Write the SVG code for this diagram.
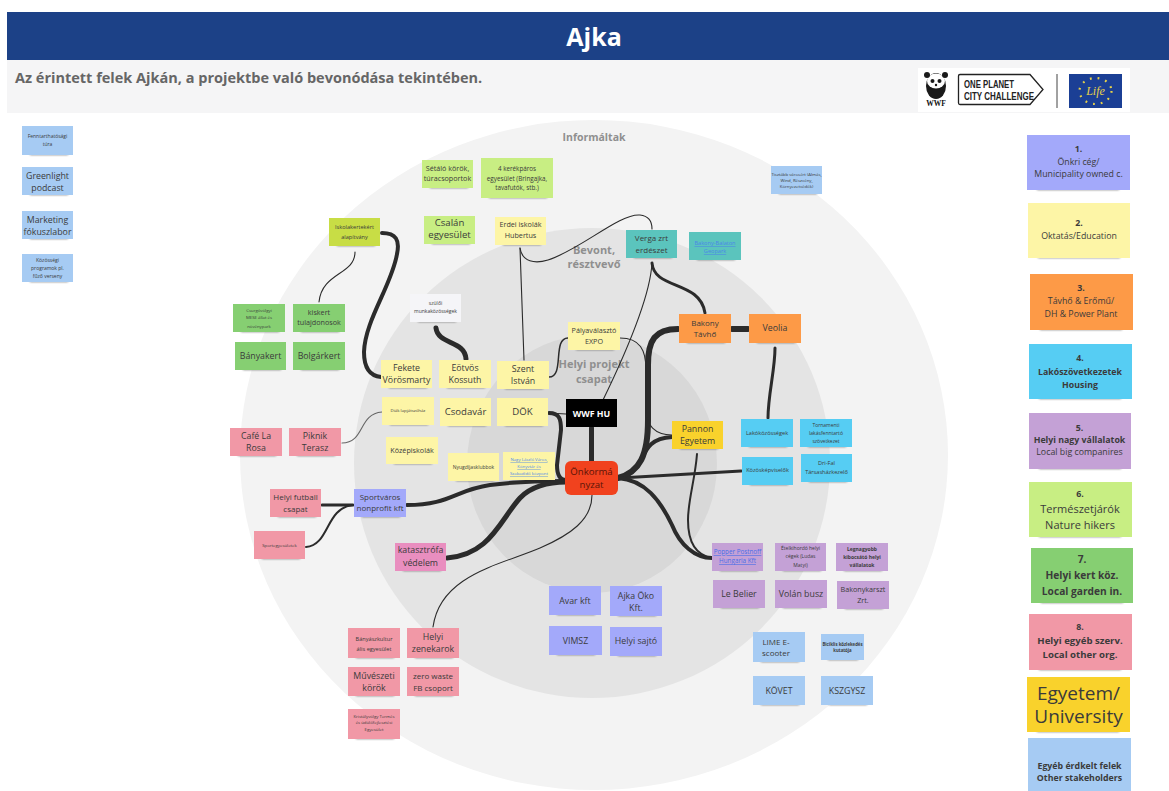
<svg xmlns="http://www.w3.org/2000/svg" width="1169" height="791" viewBox="0 0 1169 791">
<style>
text{font-family:"Open Sans","Noto Sans","Liberation Sans",sans-serif;text-anchor:middle;fill:#3b3b3b}
.sh{fill:#222;opacity:.55;filter:url(#blur)}
.peri{fill:#a3a9fa}.yel{fill:#fdf5a6}.ora{fill:#fd9a47}.cy{fill:#56cdf3}.pur{fill:#c4a1d6}.lime{fill:#c8ee83}.grn{fill:#86cf72}.pnk{fill:#f198a6}.uni{fill:#f9d22c}.blu{fill:#a6cbf3}.teal{fill:#5bc4bd}.olive{fill:#c8dd45}.wht{fill:#f5f5f8}.mag{fill:#e98ebf}.blk{fill:#000}
.s4{font-size:4.3px}.s5{font-size:5px}.s55{font-size:5.6px}.s6{font-size:6.3px}.s7{font-size:7.2px}.s8{font-size:8px}.s85{font-size:8.8px}.s95{font-size:9.6px}.s10{font-size:10.2px}.s11{font-size:11px}
.b{font-weight:700}
.lnk{fill:#4a86e8;text-decoration:underline}
.ring{font-weight:700;fill:#8f8f8f}
.c{fill:none;stroke:#2b2b2b;stroke-linecap:round}
.w1{stroke-width:1.1}.w2{stroke-width:2}.w3{stroke-width:3}.w4{stroke-width:4}.w5{stroke-width:5}.w6{stroke-width:6}
</style>
<defs><filter id="blur" x="-20%" y="-100%" width="140%" height="300%"><feGaussianBlur stdDeviation="1.2"/></filter></defs>
<rect width="1169" height="791" fill="#fff"/>
<rect x="7" y="60" width="1162" height="53" fill="#f5f5f6"/>
<rect x="7" y="12" width="1162" height="48" fill="#1c4187"/>
<text x="594" y="46" font-size="25" font-weight="700" style="fill:#fff">Ajka</text>
<text x="15" y="83" font-size="14.5" font-weight="700" style="text-anchor:start;fill:#666">Az érintett felek Ajkán, a projektbe való bevonódása tekintében.</text>
<g id="logos">
<rect x="918" y="68" width="212" height="44" fill="#fff"/>
<ellipse cx="936" cy="86" rx="10" ry="13" fill="#1a1a1a"/>
<ellipse cx="936" cy="81" rx="9" ry="7.5" fill="#fff"/>
<circle cx="927" cy="75" r="3" fill="#1a1a1a"/><circle cx="945" cy="75" r="3" fill="#1a1a1a"/>
<circle cx="932.5" cy="81" r="2" fill="#1a1a1a"/><circle cx="939.5" cy="81" r="2" fill="#1a1a1a"/>
<circle cx="936" cy="85" r="1.2" fill="#1a1a1a"/>
<text x="936" y="106" font-size="7.5" font-weight="700" style="font-family:'Liberation Serif',serif;fill:#111">WWF</text>
<path d="M960,74.500 H1030 L1043,89.500 L1030,104.500 H960 Q958.500,104.500 958.500,103 V76 Q958.500,74.500 960,74.500 Z" fill="#fff" stroke="#222" stroke-width="1.300"/>
<text x="964" y="88" font-size="11" font-weight="700" textLength="50" lengthAdjust="spacingAndGlyphs" style="font-family:'Liberation Sans',sans-serif;text-anchor:start;fill:#222">ONE PLANET</text>
<text x="964" y="100" font-size="11" font-weight="700" textLength="70" lengthAdjust="spacingAndGlyphs" style="font-family:'Liberation Sans',sans-serif;text-anchor:start;fill:#222">CITY CHALLENGE</text>
<line x1="1057" y1="74" x2="1057" y2="108" stroke="#444" stroke-width="1"/>
<rect x="1069" y="74" width="53" height="34" fill="#1b3f95"/>
<ellipse cx="1095.500" cy="91" rx="16" ry="13" fill="none" stroke="#e8d24a" stroke-width="2.200" stroke-dasharray="1.800 6"/>
<text x="1095.500" y="95" font-size="12" font-style="italic" style="font-family:'Liberation Serif',serif;fill:#e8d24a">Life</text>
</g>
<g id="rings">
<ellipse cx="594" cy="455" rx="354" ry="335" fill="#f3f3f3"/>
<ellipse cx="592" cy="463" rx="238" ry="235" fill="#e4e4e4"/>
<ellipse cx="592" cy="464" rx="125" ry="129" fill="#d8d8d8"/>
<text class="ring" x="594" y="141" font-size="10.500">Informáltak</text>
<text class="ring" x="594" y="254" font-size="11">Bevont,</text>
<text class="ring" x="594" y="268" font-size="11">résztvevő</text>
<text class="ring" x="594" y="368" font-size="11">Helyi projekt</text>
<text class="ring" x="594" y="383" font-size="11">csapat</text>
</g>
<g id="connectors">
<path class="c w4" d="M382,233 C396,233 400,240 397,254 C392,285 365,320 364,352 C364,368 370,376 381,377"/>
<path class="c w1" d="M355,252 C355,275 322,272 319,302"/>
<path class="c w5" d="M436,328 C438,345 465,340 466,359"/>
<path class="c w1" d="M520,248 L524,360"/>
<path class="c w1" d="M520,248 C522,262 535,264 548,260 C580,250 620,213 640,215 C650,216 652,222 652,229"/>
<path class="c w3" d="M652,263 C654,290 700,280 705,313"/>
<path class="c w1" d="M652,263 C650,300 620,365 603,400"/>
<path class="c w6" d="M732,329 H748"/>
<path class="c w6" d="M678,329 C655,329 648,340 648,365 L648,420 C648,455 640,472 618,478"/>
<path class="c w1" d="M620,338 C640,338 646,350 646,370 L646,410 C646,425 655,435 672,435"/>
<path class="c w4" d="M672,437 C650,438 646,450 640,462 C634,472 628,476 618,478"/>
<path class="c w3" d="M775,348 C775,370 768,395 768,418"/>
<path class="c w3" d="M620,478 L741,471"/>
<path class="c w4" d="M618,478 C645,480 660,500 672,525 C680,545 695,558 712,558"/>
<path class="c w2" d="M697,454 C695,480 688,500 688,520 C688,540 695,555 712,558"/>
<path class="c w5" d="M591.500,428 V461"/>
<path class="c w4" d="M549,413 C560,413 561,420 561,430 L557,465 C557,475 560,480 566,480"/>
<path class="c w1" d="M549,413 L566,414"/>
<path class="c w4" d="M407,505 C450,505 455,490 490,485 C520,481 545,481 566,481"/>
<path class="c w5" d="M447,558 C490,555 500,520 520,498 C530,487 548,482 566,482"/>
<path class="c w3" d="M322,505 H353"/>
<path class="c w2" d="M306,547 C330,545 325,508 353,505"/>
<path class="c w1" style="stroke:#666" d="M342,443 C365,443 358,414 382,412"/>
<path class="c w2" style="stroke-width:1.500" d="M549,377 C565,377 552,338 568,338"/>
<path class="c w1" d="M592,495 C592,520 570,535 540,548 C500,565 440,575 433,627"/>
</g>
<g id="n1"><rect class="sh" x="30" y="152" width="38" height="3"/><rect class="blu" x="22" y="126" width="51" height="29"/><text class="s5" x="47.500" y="138">Fenntarthatósági</text><text class="s5" x="47.500" y="146">túra</text></g>
<g id="n2"><rect class="sh" x="30" y="192" width="38" height="3"/><rect class="blu" x="22" y="167" width="51" height="28"/><text class="s85" x="47.500" y="179">Greenlight</text><text class="s85" x="47.500" y="191">podcast</text></g>
<g id="n3"><rect class="sh" x="30" y="236" width="38" height="3"/><rect class="blu" x="22" y="211" width="51" height="28"/><text class="s85" x="47.500" y="223">Marketing</text><text class="s85" x="47.500" y="235">fókuszlabor</text></g>
<g id="n4"><rect class="sh" x="30" y="279" width="38" height="3"/><rect class="blu" x="22" y="254" width="51" height="28"/><text class="s5" x="47.500" y="262">Közösségi</text><text class="s5" x="47.500" y="270">programok pl.</text><text class="s5" x="47.500" y="278">fűző verseny</text></g>
<g id="n5"><rect class="sh" x="430" y="185" width="38" height="3"/><rect class="lime" x="422" y="160" width="51" height="28"/><text class="s7" x="447.500" y="171">Sétáló körök,</text><text class="s7" x="447.500" y="181">túracsoportok</text></g>
<g id="n6"><rect class="sh" x="489" y="195" width="58" height="3"/><rect class="lime" x="481" y="158" width="72" height="40"/><text class="s6" x="517" y="171">4 kerékpáros</text><text class="s6" x="517" y="181">egyesület (Bringajka,</text><text class="s6" x="517" y="190">tavafutók, stb.)</text></g>
<g id="n7"><rect class="sh" x="432" y="241" width="38" height="3"/><rect class="lime" x="424" y="216" width="51" height="28"/><text class="s95" x="449.500" y="226">Csalán</text><text class="s95" x="449.500" y="238">egyesület</text></g>
<g id="n8"><rect class="sh" x="503" y="242" width="38" height="3"/><rect class="yel" x="495" y="217" width="51" height="28"/><text class="s7" x="520.500" y="227">Erdei iskolák</text><text class="s7" x="520.500" y="238">Hubertus</text></g>
<g id="n9"><rect class="sh" x="634" y="255" width="38" height="3"/><rect class="teal" x="626" y="230" width="51" height="28"/><text class="s8" x="651.500" y="241">Verga zrt</text><text class="s8" x="651.500" y="253">erdészet</text></g>
<g id="n10"><rect class="sh" x="697" y="257" width="38" height="3"/><rect class="teal" x="689" y="232" width="52" height="28"/><text class="s55 lnk" style="fill:#4a86e8" x="715" y="245">Bakony-Balaton</text><text class="s55 lnk" style="fill:#4a86e8" x="715" y="253">Geopark</text></g>
<g id="n11"><rect class="sh" x="779" y="191" width="38" height="3"/><rect class="blu" x="771" y="166" width="51" height="28"/><text class="s4" x="796.500" y="176">Tisztább városért (Almás,</text><text class="s4" x="796.500" y="182">Wind, Részvény,</text><text class="s4" x="796.500" y="188">Környezetvédők)</text></g>
<g id="n12"><rect class="sh" x="337" y="243" width="38" height="3"/><rect class="olive" x="329" y="218" width="51" height="28"/><text class="s55" x="354.500" y="229">Iskolakertekért</text><text class="s55" x="354.500" y="239">alapítvány</text></g>
<g id="n13"><rect class="sh" x="418" y="319" width="38" height="3"/><rect class="wht" x="410" y="294" width="51" height="28"/><text class="s5" x="435.500" y="305">szülői</text><text class="s5" x="435.500" y="313">munkaközösségek</text></g>
<g id="n14"><rect class="sh" x="576" y="347" width="38" height="3"/><rect class="yel" x="568" y="322" width="52" height="28"/><text class="s7" x="594" y="333">Pályaválasztó</text><text class="s7" x="594" y="344">EXPO</text></g>
<g id="n15"><rect class="sh" x="687" y="340" width="38" height="3"/><rect class="ora" x="679" y="314" width="52" height="29"/><text class="s8" x="705" y="326">Bakony</text><text class="s8" x="705" y="337">Távhő</text></g>
<g id="n16"><rect class="sh" x="757" y="340" width="38" height="3"/><rect class="ora" x="749" y="314" width="52" height="29"/><text class="s85" x="775" y="331">Veolia</text></g>
<g id="n17"><rect class="sh" x="389" y="385" width="38" height="3"/><rect class="yel" x="381" y="360" width="51" height="28"/><text class="s85" x="406.500" y="371">Fekete</text><text class="s85" x="406.500" y="383">Vörösmarty</text></g>
<g id="n18"><rect class="sh" x="447" y="385" width="38" height="3"/><rect class="yel" x="439" y="360" width="52" height="28"/><text class="s85" x="465" y="371">Eötvös</text><text class="s85" x="465" y="383">Kossuth</text></g>
<g id="n19"><rect class="sh" x="505" y="386" width="38" height="3"/><rect class="yel" x="497" y="361" width="52" height="28"/><text class="s85" x="523" y="372">Szent</text><text class="s85" x="523" y="384">István</text></g>
<g id="n20"><rect class="sh" x="390" y="422" width="38" height="3"/><rect class="yel" x="382" y="397" width="52" height="28"/><text class="s4" x="408" y="412">Diák lapjátszóház</text></g>
<g id="n21"><rect class="sh" x="448" y="423" width="38" height="3"/><rect class="yel" x="440" y="398" width="51" height="28"/><text class="s95" x="465.500" y="415">Csodavár</text></g>
<g id="n22"><rect class="sh" x="505" y="423" width="38" height="3"/><rect class="yel" x="497" y="398" width="51" height="28"/><text class="s95" x="522.500" y="415">DÖK</text></g>
<g id="n23"><rect class="sh" x="394" y="461" width="38" height="3"/><rect class="yel" x="386" y="437" width="52" height="27"/><text class="s7" x="412" y="453">Középiskolák</text></g>
<g id="n24"><rect class="sh" x="456" y="478" width="38" height="3"/><rect class="yel" x="448" y="453" width="51" height="28"/><text class="s5" x="473.500" y="469">Nyugdíjasklubbok</text></g>
<g id="n25"><rect class="sh" x="511" y="477" width="38" height="3"/><rect class="yel" x="503" y="452" width="52" height="28"/><text class="s4 lnk" style="fill:#4a86e8" x="529" y="461">Nagy László Város,</text><text class="s4 lnk" style="fill:#4a86e8" x="529" y="468">Könyvtár és</text><text class="s4 lnk" style="fill:#4a86e8" x="529" y="475">Szabadidő központ</text></g>
<g id="n26"><rect class="blk" x="566" y="399" width="51" height="28"/><text class="s85 b" style="fill:#fff" x="591.500" y="417">WWF HU</text></g>
<g id="n27"><rect x="565" y="461" width="53" height="34" rx="6" fill="#f1421e"/><text class="s95" style="fill:#5a1408" x="591.500" y="475">Önkormá</text><text class="s95" style="fill:#5a1408" x="591.500" y="488">nyzat</text></g>
<g id="n28"><rect class="sh" x="680" y="446" width="38" height="3"/><rect class="uni" x="672" y="421" width="51" height="28"/><text class="s85" x="697.500" y="432">Pannon</text><text class="s85" x="697.500" y="444">Egyetem</text></g>
<g id="n29"><rect class="sh" x="749" y="444" width="38" height="3"/><rect class="cy" x="741" y="419" width="52" height="28"/><text class="s55" x="767" y="435">Lakóközösségek</text></g>
<g id="n30"><rect class="sh" x="808" y="444" width="38" height="3"/><rect class="cy" x="800" y="419" width="52" height="28"/><text class="s5" x="826" y="427">Tornamenti</text><text class="s5" x="826" y="434.500">lakásfenntartó</text><text class="s5" x="826" y="443">szövetkezet</text></g>
<g id="n31"><rect class="sh" x="750" y="482" width="38" height="3"/><rect class="cy" x="742" y="457" width="51" height="28"/><text class="s55" x="767.500" y="472">Közösképviselők</text></g>
<g id="n32"><rect class="sh" x="809" y="479" width="38" height="3"/><rect class="cy" x="801" y="454" width="51" height="28"/><text class="s55" x="826.500" y="465">Dri-Fal</text><text class="s55" x="826.500" y="474">Társasházkezelő</text></g>
<g id="n33"><rect class="sh" x="720" y="568" width="38" height="3"/><rect class="pur" x="712" y="543" width="51" height="28"/><text class="s6 lnk" style="fill:#4a6ee8" x="737.500" y="554">Popper Postnoff</text><text class="s6 lnk" style="fill:#4a6ee8" x="737.500" y="563">Hungaria Kft</text></g>
<g id="n34"><rect class="sh" x="783" y="568" width="38" height="3"/><rect class="pur" x="775" y="543" width="51" height="28"/><text class="s5" x="800.500" y="550">Ételkihordó helyi</text><text class="s5" x="800.500" y="558">cégek (Ludas</text><text class="s5" x="800.500" y="567">Matyi)</text></g>
<g id="n35"><rect class="sh" x="844" y="568" width="38" height="3"/><rect class="pur" x="836" y="543" width="52" height="28"/><text class="s5 b" x="862" y="551">Legnagyobb</text><text class="s5 b" x="862" y="559">kibocsátó helyi</text><text class="s5 b" x="862" y="567">vállalatok</text></g>
<g id="n36"><rect class="sh" x="721" y="605" width="38" height="3"/><rect class="pur" x="713" y="580" width="52" height="28"/><text class="s85" x="739" y="597">Le Belier</text></g>
<g id="n37"><rect class="sh" x="783" y="605" width="38" height="3"/><rect class="pur" x="775" y="580" width="52" height="28"/><text class="s85" x="801" y="597">Volán busz</text></g>
<g id="n38"><rect class="sh" x="845" y="606" width="38" height="3"/><rect class="pur" x="837" y="581" width="52" height="28"/><text class="s7" x="863" y="592">Bakonykarszt</text><text class="s7" x="863" y="603">Zrt.</text></g>
<g id="n39"><rect class="sh" x="362" y="514" width="38" height="3"/><rect class="peri" x="354" y="489" width="52" height="28"/><text class="s8" x="380" y="500">Sportváros</text><text class="s8" x="380" y="511">nonprofit kft</text></g>
<g id="n40"><rect class="sh" x="238" y="453" width="38" height="3"/><rect class="pnk" x="230" y="428" width="52" height="28"/><text class="s85" x="256" y="439">Café La</text><text class="s85" x="256" y="451">Rosa</text></g>
<g id="n41"><rect class="sh" x="297" y="453" width="38" height="3"/><rect class="pnk" x="289" y="428" width="52" height="28"/><text class="s85" x="315" y="439">Piknik</text><text class="s85" x="315" y="451">Terasz</text></g>
<g id="n42"><rect class="sh" x="278" y="514" width="38" height="3"/><rect class="pnk" x="270" y="489" width="51" height="28"/><text class="s8" x="295.500" y="500">Helyi futball</text><text class="s8" x="295.500" y="512">csapat</text></g>
<g id="n43"><rect class="sh" x="262" y="556" width="38" height="3"/><rect class="pnk" x="254" y="531" width="51" height="28"/><text class="s4" x="279.500" y="547">Sportegyesületek</text></g>
<g id="n44"><rect class="sh" x="403" y="568" width="38" height="3"/><rect class="mag" x="395" y="543" width="51" height="28"/><text class="s85" x="420.500" y="553">katasztrófa</text><text class="s85" x="420.500" y="566">védelem</text></g>
<g id="n45"><rect class="sh" x="241" y="329" width="38" height="3"/><rect class="grn" x="233" y="304" width="52" height="28"/><text class="s4" x="259" y="311.500">Csurgóvölgyi</text><text class="s4" x="259" y="319">MESE állat és</text><text class="s4" x="259" y="327.500">növénypark</text></g>
<g id="n46"><rect class="sh" x="301" y="329" width="38" height="3"/><rect class="grn" x="293" y="304" width="52" height="28"/><text class="s7" x="319" y="315">kiskert</text><text class="s7" x="319" y="325">tulajdonosok</text></g>
<g id="n47"><rect class="sh" x="243" y="367" width="38" height="3"/><rect class="grn" x="235" y="342" width="51" height="28"/><text class="s85" x="260.500" y="359">Bányakert</text></g>
<g id="n48"><rect class="sh" x="301" y="367" width="38" height="3"/><rect class="grn" x="293" y="342" width="52" height="28"/><text class="s85" x="319" y="359">Bolgárkert</text></g>
<g id="n49"><rect class="sh" x="557" y="612" width="38" height="3"/><rect class="peri" x="549" y="586" width="52" height="29"/><text class="s85" x="575" y="604">Avar kft</text></g>
<g id="n50"><rect class="sh" x="618" y="613" width="38" height="3"/><rect class="peri" x="610" y="586" width="52" height="30"/><text class="s85" x="636" y="599">Ajka Öko</text><text class="s85" x="636" y="611">Kft.</text></g>
<g id="n51"><rect class="sh" x="557" y="652" width="38" height="3"/><rect class="peri" x="549" y="626" width="53" height="29"/><text class="s85" x="575.500" y="644">VIMSZ</text></g>
<g id="n52"><rect class="sh" x="618" y="653" width="38" height="3"/><rect class="peri" x="610" y="627" width="52" height="29"/><text class="s85" x="636" y="644">Helyi sajtó</text></g>
<g id="n53"><rect class="sh" x="356" y="655" width="38" height="3"/><rect class="pnk" x="348" y="628" width="52" height="30"/><text class="s55" x="374" y="641">Bányászkultur</text><text class="s55" x="374" y="651">ális egyesület</text></g>
<g id="n54"><rect class="sh" x="415" y="655" width="38" height="3"/><rect class="pnk" x="407" y="628" width="52" height="30"/><text class="s85" x="433" y="640">Helyi</text><text class="s85" x="433" y="652">zenekarok</text></g>
<g id="n55"><rect class="sh" x="356" y="693" width="38" height="3"/><rect class="pnk" x="348" y="667" width="52" height="29"/><text class="s85" x="374" y="679">Művészeti</text><text class="s85" x="374" y="691">körök</text></g>
<g id="n56"><rect class="sh" x="415" y="693" width="38" height="3"/><rect class="pnk" x="407" y="667" width="52" height="29"/><text class="s8" x="433" y="679">zero waste</text><text class="s8" x="433" y="691">FB csoport</text></g>
<g id="n57"><rect class="sh" x="356" y="736" width="38" height="3"/><rect class="pnk" x="348" y="709" width="52" height="30"/><text class="s4" x="374" y="718">Kristályvölgy Termés</text><text class="s4" x="374" y="724">és üdülőfejlesztési</text><text class="s4" x="374" y="731">Egyesület</text></g>
<g id="n58"><rect class="sh" x="761" y="659" width="38" height="3"/><rect class="blu" x="753" y="632" width="52" height="30"/><text class="s8" x="776" y="645">LIME E-</text><text class="s8" x="776" y="656">scooter</text></g>
<g id="n59"><rect class="sh" x="828" y="657" width="30" height="3"/><rect class="blu" x="821" y="634" width="43" height="26"/><text class="s4 b" x="842.500" y="646">Biciklis közlekedés</text><text class="s4 b" x="842.500" y="652">kutatója</text></g>
<g id="n60"><rect class="sh" x="761" y="702" width="38" height="3"/><rect class="blu" x="753" y="676" width="52" height="29"/><text class="s85" x="779" y="694">KÖVET</text></g>
<g id="n61"><rect class="sh" x="829" y="702" width="38" height="3"/><rect class="blu" x="821" y="676" width="52" height="29"/><text class="s85" x="847" y="694">KSZGYSZ</text></g>
<g id="l1"><rect class="sh" x="1037" y="187" width="82" height="3"/><rect class="peri" x="1027" y="135" width="103" height="55"/><text class="s85 b" x="1078.500" y="152">1.</text><text class="s85" x="1078.500" y="165">Önkri cég/</text><text class="s85" x="1078.500" y="177">Municipality owned c.</text></g>
<g id="l2"><rect class="sh" x="1038" y="255" width="82" height="3"/><rect class="yel" x="1028" y="203" width="102" height="55"/><text class="s85 b" x="1079" y="226">2.</text><text class="s85" x="1079" y="239">Oktatás/Education</text></g>
<g id="l3"><rect class="sh" x="1040" y="327" width="82" height="3"/><rect class="ora" x="1030" y="274" width="103" height="56"/><text class="s85 b" x="1081" y="291">3.</text><text class="s85" x="1081" y="304">Távhő &amp; Erőmű/</text><text class="s85" x="1081" y="317">DH &amp; Power Plant</text></g>
<g id="l4"><rect class="sh" x="1039" y="396" width="82" height="3"/><rect class="cy" x="1029" y="344" width="103" height="55"/><text class="s85 b" x="1080" y="361">4.</text><text class="s85 b" x="1080" y="375">Lakószövetkezetek</text><text class="s85 b" x="1080" y="388">Housing</text></g>
<g id="l5"><rect class="sh" x="1039" y="466" width="82" height="3"/><rect class="pur" x="1029" y="413" width="102" height="56"/><text class="s85 b" x="1079.500" y="431">5.</text><text class="s85 b" x="1079.500" y="443">Helyi nagy vállalatok</text><text class="s85" x="1079.500" y="455">Local big companires</text></g>
<g id="l6"><rect class="sh" x="1039" y="534" width="82" height="3"/><rect class="lime" x="1029" y="482" width="103" height="55"/><text class="s85 b" x="1080" y="497">6.</text><text class="s11" x="1080" y="513">Természetjárók</text><text class="s11" x="1080" y="529">Nature hikers</text></g>
<g id="l7"><rect class="sh" x="1041" y="600" width="82" height="3"/><rect class="grn" x="1031" y="548" width="102" height="55"/><text class="s10 b" x="1082" y="563">7.</text><text class="s10 b" x="1082" y="579">Helyi kert köz.</text><text class="s10 b" x="1082" y="595">Local garden in.</text></g>
<g id="l8"><rect class="sh" x="1039" y="667" width="82" height="3"/><rect class="pnk" x="1029" y="614" width="103" height="56"/><text class="s85 b" x="1080" y="630">8.</text><text class="s95 b" x="1080" y="644">Helyi egyéb szerv.</text><text class="s95 b" x="1080" y="658">Local other org.</text></g>
<g id="l9"><rect class="sh" x="1037" y="729" width="82" height="3"/><rect class="uni" x="1027" y="677" width="103" height="55"/><text x="1078.500" y="700" font-size="19">Egyetem/</text><text x="1078.500" y="723" font-size="19">University</text></g>
<g id="l10"><rect class="blu" x="1028" y="738" width="103" height="53"/><text class="s85 b" x="1079.500" y="769">Egyéb érdkelt felek</text><text class="s85 b" x="1079.500" y="781">Other stakeholders</text></g>
</svg>
